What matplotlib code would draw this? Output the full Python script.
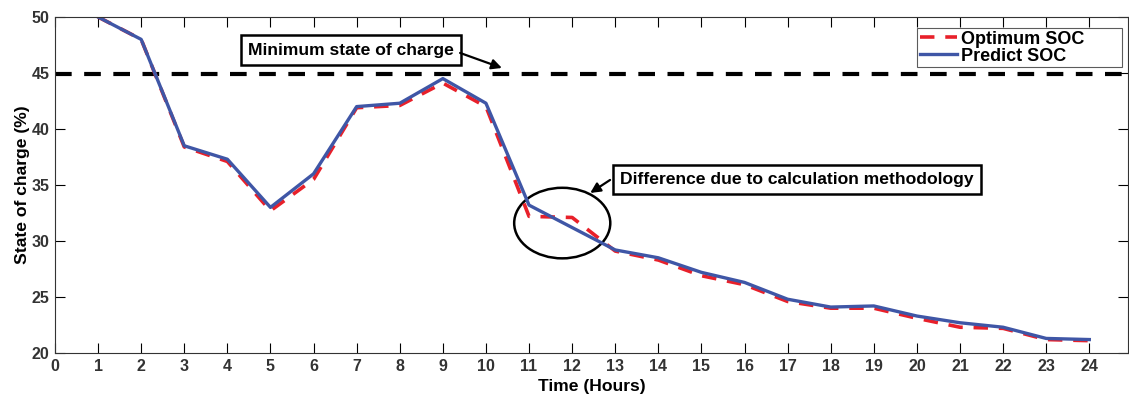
import numpy as np
import matplotlib.pyplot as plt
from matplotlib.patches import Ellipse

# Data
hours = list(range(1, 25))
optimum_soc = [50, 48, 38.4, 37.1, 32.7, 35.5, 41.9, 42.1, 44.1, 42.0, 32.2, 32.1,
               29.1, 28.3, 26.9, 26.1, 24.6, 24.0, 24.0, 23.1, 22.3, 22.2, 21.2, 21.1]
predict_soc = [50, 48, 38.5, 37.3, 33.0, 36.0, 42.0, 42.3, 44.5, 42.3, 33.2, 31.2,
               29.2, 28.5, 27.2, 26.3, 24.8, 24.1, 24.2, 23.3, 22.7, 22.3, 21.3, 21.2]
min_soc = 44.9

plt.rcParams['font.family'] = ['Liberation Sans', 'DejaVu Sans']

fig = plt.figure(figsize=(11.29, 3.96), dpi=100)
ax = fig.add_axes([0.0487, 0.1086, 0.9505, 0.8485])

ax.axhline(min_soc, color='black', linestyle=(0, (4, 3)), linewidth=3)
ax.plot(hours, optimum_soc, color='#e8202a', linestyle=(0, (4, 3)), linewidth=2.6,
        label='Optimum SOC')
ax.plot(hours, predict_soc, color='#3f56a6', linewidth=2.4, label='Predict SOC')

ax.set_xlim(0, 24.9)
ax.set_ylim(20, 50)
ax.set_xticks(range(0, 25))
ax.set_yticks(range(20, 51, 5))
ax.tick_params(direction='in', length=7, top=True, right=True, labelsize=11.5,
               labelcolor='#333333', width=0.8, pad=4)
for lab in ax.get_xticklabels() + ax.get_yticklabels():
    lab.set_fontweight('bold')
for sp in ax.spines.values():
    sp.set_linewidth(0.8)
    sp.set_color('#333333')

ax.set_xlabel('Time (Hours)', fontsize=12.6, fontweight='bold', labelpad=4)
ax.set_ylabel('State of charge (%)', fontsize=12.6, fontweight='bold', labelpad=1)

# Text boxes and arrows
bbox = dict(boxstyle='square,pad=0.42', facecolor='white', edgecolor='black', linewidth=1.8)
arrow = dict(arrowstyle='-|>', color='black', lw=1.6, mutation_scale=15, shrinkA=0, shrinkB=0)
ax.text(6.87, 47.05, 'Minimum state of charge', fontsize=12.6, fontweight='bold',
        ha='center', va='center', bbox=bbox)
ax.annotate('', xy=(10.37, 45.45), xytext=(9.40, 46.79), arrowprops=arrow)
ax.text(17.22, 35.5, 'Difference due to calculation methodology', fontsize=12.6,
        fontweight='bold', ha='center', va='center', bbox=bbox)
ax.annotate('', xy=(12.42, 34.29), xytext=(12.88, 35.45), arrowprops=arrow)

ax.add_patch(Ellipse((11.77, 31.6), 2.23, 6.3, fill=False, edgecolor='black', linewidth=1.8))

leg = ax.legend(loc='upper left', bbox_to_anchor=(0.8034, 0.85, 0.191, 0.117),
                mode='expand', fontsize=13, frameon=True, fancybox=False,
                borderpad=0.15, labelspacing=0.0, handlelength=2.05,
                handletextpad=0.22, borderaxespad=0)
leg.get_frame().set_edgecolor('#333333')
leg.get_frame().set_linewidth(0.8)
for t in leg.get_texts():
    t.set_fontweight('bold')

fig.savefig('out.png', dpi=100)
